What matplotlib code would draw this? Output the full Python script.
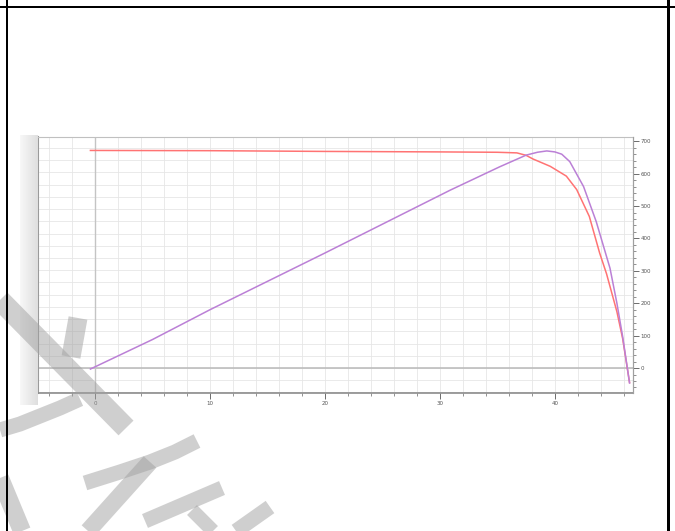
import numpy as np
import matplotlib
matplotlib.use('Agg')
import matplotlib.pyplot as plt
from matplotlib.ticker import MultipleLocator

# I-V curve (left axis)
v_i = [-0.4, 10, 20, 30, 35, 36.7, 37.5, 38.1, 39.6, 41.0, 41.9, 43.0, 43.9, 44.5, 45.4, 45.9, 46.5]
current = [17.8, 17.78, 17.72, 17.68, 17.65, 17.6, 17.4, 17.1, 16.5, 15.7, 14.6, 12.4, 9.4, 7.7, 4.6, 2.4, -1.2]

# P-V curve (right axis)
v_p = [-0.4, 5, 10, 20, 30.9, 35.2, 37.5, 38.5, 39.3, 40.0, 40.6, 41.3, 42.5, 43.6, 44.8, 45.4, 45.9, 46.5]
power = [-3, 88, 180, 355, 549, 621, 657, 666, 670, 667, 660, 637, 560, 452, 308, 200, 97, -46]

x_ticks = [0, 10, 20, 30, 40]
left_ticks = [0, 5, 10, 15]
right_ticks = [0, 100, 200, 300, 400, 500, 600, 700]

W, H = 675, 531
fig = plt.figure(figsize=(W / 100, H / 100), dpi=100)
fig.patch.set_facecolor('white')

# plot area in pixel coords of the screenshot
left, right, top, bottom = 38, 633, 137, 393
ax = fig.add_axes([left / W, 1 - bottom / H, (right - left) / W, (bottom - top) / H])
ax.set_xlim(-4.96, 46.8)
ax.set_ylim(-2.05, 18.9)
ax.set_xticks(x_ticks)
ax.set_yticks(left_ticks)
ax.xaxis.set_minor_locator(MultipleLocator(2))
ax.yaxis.set_minor_locator(MultipleLocator(1))
ax.grid(True, which='both', color='#e6e6e6', lw=0.6)
ax.axhline(0, color='#bdbdbd', lw=1.2, zorder=1)
ax.axvline(0, color='#c4c4c4', lw=1.0, zorder=1)
ax.set_axisbelow(True)

ax.tick_params(which='major', labelsize=4, colors='#555555', length=4, width=0.6, pad=1.5)
ax.tick_params(which='minor', length=2, width=0.5, colors='#666666')
ax.spines['left'].set_color('#9a9a9a')
ax.spines['left'].set_linewidth(1.5)
ax.spines['bottom'].set_color('#8c8c8c')
ax.spines['bottom'].set_linewidth(1.2)
ax.spines['top'].set_color('#c0c0c0')
ax.spines['top'].set_linewidth(0.8)
ax.spines['right'].set_color('#a0a0a0')

ax.plot(v_i, current, color='#ff7373', lw=1.1, zorder=3)

ax2 = ax.twinx()
ax2.set_ylim(-77, 713)
ax2.set_yticks(right_ticks)
ax2.yaxis.set_minor_locator(MultipleLocator(20))
ax2.tick_params(which='major', labelsize=4, colors='#555555', length=4, width=0.6, pad=1.5)
ax2.tick_params(which='minor', length=2, width=0.5, colors='#666666')
for s in ['left', 'top', 'bottom']:
    ax2.spines[s].set_visible(False)
ax2.spines['right'].set_color('#a0a0a0')
ax2.plot(v_p, power, color='#bb80d6', lw=1.1, zorder=3)

# overlay: gray band beside the y axis, watermark and document frame
ov = fig.add_axes([0, 0, 1, 1], zorder=10)
ov.patch.set_alpha(0)
grad = np.linspace(0.97, 0.87, 60)[None, :]
ov.imshow(grad, extent=(20, 38, 405, 135), cmap='gray', vmin=0, vmax=1,
          aspect='auto', zorder=0)

strokes = [
    ([0, 126], [300, 428], 21),
    ([78, 71], [318, 357], 19),
    ([0, 20, 40, 60, 80], [430, 424, 416, 408, 399], 15),
    ([197, 175, 150, 120, 85], [441, 452, 462, 472, 483], 15),
    ([150, 88], [462, 531], 17),
    ([145, 222], [521, 488], 15),
    ([192, 213], [510, 531], 14),
    ([270, 236], [507, 531], 15),
    ([0, 22], [478, 531], 18),
]
for xs, ys, w in strokes:
    ov.plot(xs, ys, color='#a0a0a0', alpha=0.5, lw=w * 0.72,
            solid_capstyle='butt', solid_joinstyle='round', zorder=2)

ov.plot([0, W], [6.5, 6.5], color='black', lw=2 * 0.72, zorder=3)
ov.plot([7, 7], [0, H], color='black', lw=2 * 0.72, zorder=3)
ov.plot([668, 668], [0, H], color='black', lw=3 * 0.72, zorder=3)

ov.set_xlim(0, W)
ov.set_ylim(H, 0)
ov.axis('off')

fig.savefig('out.png', dpi=100)
